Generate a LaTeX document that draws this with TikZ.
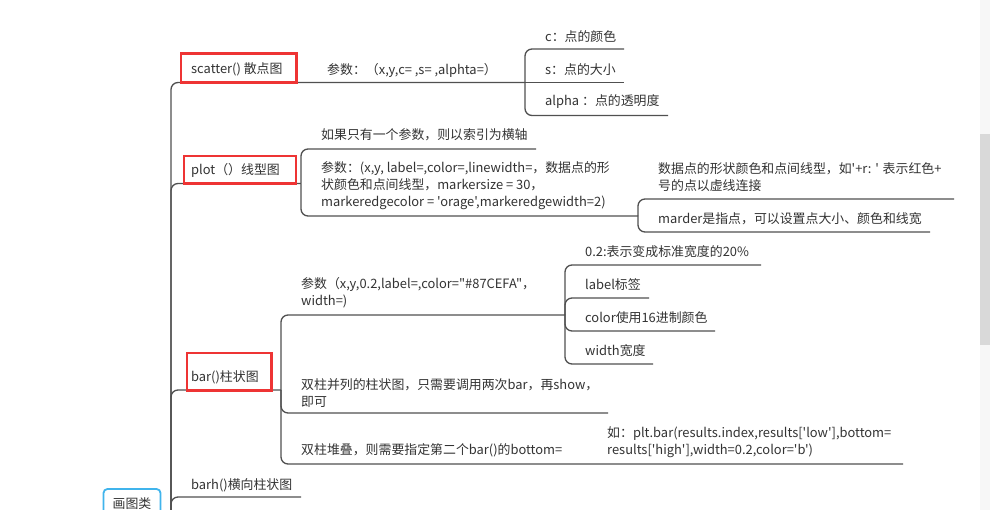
\documentclass[tikz,border=0pt]{standalone}
\usepackage{fontspec}
\newfontfamily\cjk{Noto Sans CJK SC}[Ligatures=TeXOff]
\usepackage{tikz}
\definecolor{ink}{HTML}{333333}
\definecolor{wire}{HTML}{505050}
\definecolor{mark}{HTML}{EE3434}
\definecolor{sky}{HTML}{40B4EC}

\begin{document}
\begin{tikzpicture}[x=1pt,y=-1pt,
  every node/.style={inner sep=0pt,anchor=west,align=left,text=ink,font=\cjk\fontsize{12.9}{17}\selectfont},
  link/.style={draw=wire,line width=1.3pt,rounded corners=7pt},
  hot/.style={draw=mark,line width=2.6pt},
  rootbox/.style={draw=sky,line width=1.8pt,rounded corners=4pt,minimum width=57pt,minimum height=30pt,anchor=center}
]
  \useasboundingbox (0,0) rectangle (990,510);
  \clip (0,0) rectangle (990,510);
  \fill[white] (0,0) rectangle (990,510);
  \fill[black!3] (980,0) rectangle (990,510);
  \fill[black!15] (980,134) rectangle (990,345);

  \coordinate (trunk) at (171,530);
  \coordinate (scJ) at (525,82.5);
  \coordinate (plJ) at (301,183.5);
  \coordinate (plJ2) at (638,216);
  \coordinate (brJ) at (281,390);
  \coordinate (brJ2) at (565,315);
  \coordinate (stJ) at (600,464);
  \coordinate (scC-u) at (624,49);
  \coordinate (scS-u) at (624,82.5);
  \coordinate (scAlpha-u) at (668,115.5);
  \coordinate (plOne-u) at (536,149);
  \coordinate (plShape-u) at (954,199);
  \coordinate (plMarker-u) at (930,232);
  \coordinate (brW02-u) at (761,265);
  \coordinate (brLabel-u) at (649,298);
  \coordinate (brColor-u) at (715,331);
  \coordinate (brWidth-u) at (653,364);
  \coordinate (brSide-u) at (608,413);
  \coordinate (brStackEx-u) at (903,464);
  \coordinate (barh-u) at (301,497);

  \draw[link] (trunk) |- (scJ);
  \draw[link] (scJ) |- (scC-u);
  \draw[link] (scJ) -- (scS-u);
  \draw[link] (scJ) |- (scAlpha-u);
  \draw[link] (trunk) |- (plJ);
  \draw[link] (plJ) |- (plOne-u);
  \draw[link] (plJ) |- (plJ2);
  \draw[link] (plJ2) |- (plShape-u);
  \draw[link] (plJ2) |- (plMarker-u);
  \draw[link] (trunk) |- (brJ);
  \draw[link] (brJ) |- (brJ2);
  \draw[link] (brJ2) |- (brW02-u);
  \draw[link] (brJ2) |- (brLabel-u);
  \draw[link] (brJ2) |- (brColor-u);
  \draw[link] (brJ2) |- (brWidth-u);
  \draw[link] (brJ) |- (brSide-u);
  \draw[link] (brJ) |- (stJ) -- (brStackEx-u);
  \draw[link] (trunk) |- (barh-u);

  \node (scatter) at (191,69) {scatter() 散点图};
  \node (scParam) at (327,70) {参数：（x,y,c= ,s= ,alphta=）};
  \node (scC) at (545,37) {c：点的颜色};
  \node (scS) at (545,70) {s：点的大小};
  \node (scAlpha) at (545,102) {alpha ：点的透明度};

  \node (plot) at (191,170) {plot（）线型图};
  \node (plOne) at (321,135) {如果只有一个参数，则以索引为横轴};
  \node (plParam) at (321,186) {参数：(x,y, label=,color=,linewidth=，数据点的形\\状颜色和点间线型，markersize = 30，\\markeredgecolor = 'orage',markeredgewidth=2)};
  \node (plShape) at (658,177) {数据点的形状颜色和点间线型，如'+r: ' 表示红色+\\号的点以虚线连接};
  \node (plMarker) at (658,219) {marder是指点，可以设置点大小、颜色和线宽};

  \node (bar) at (191,377) {bar()柱状图};
  \node (brParam) at (301,293) {参数（x,y,0.2,label=,color="\#87CEFA"，\\width=)};
  \node (brW02) at (585,252) {0.2:表示变成标准宽度的20\%};
  \node (brLabel) at (585,285) {label标签};
  \node (brColor) at (585,318) {color使用16进制颜色};
  \node (brWidth) at (585,351) {width宽度};
  \node (brSide) at (301,393) {双柱并列的柱状图，只需要调用两次bar，再show，\\即可};
  \node (brStack) at (301,450) {双柱堆叠，则需要指定第二个bar()的bottom=};
  \node (brStackEx) at (607,442) {如：plt.bar(results.index,results['low'],bottom=\\results['high'],width=0.2,color='b')};

  \node (barh) at (191,485) {barh()横向柱状图};
  \node[rootbox] (root) at (132,504) {画图类};

  \draw[hot] (181,53.5) rectangle (296.5,82.5);
  \draw[hot] (184,156) rectangle (296,183.5);
  \draw[hot] (187,353) rectangle (271.5,390.5);
\end{tikzpicture}
\end{document}
